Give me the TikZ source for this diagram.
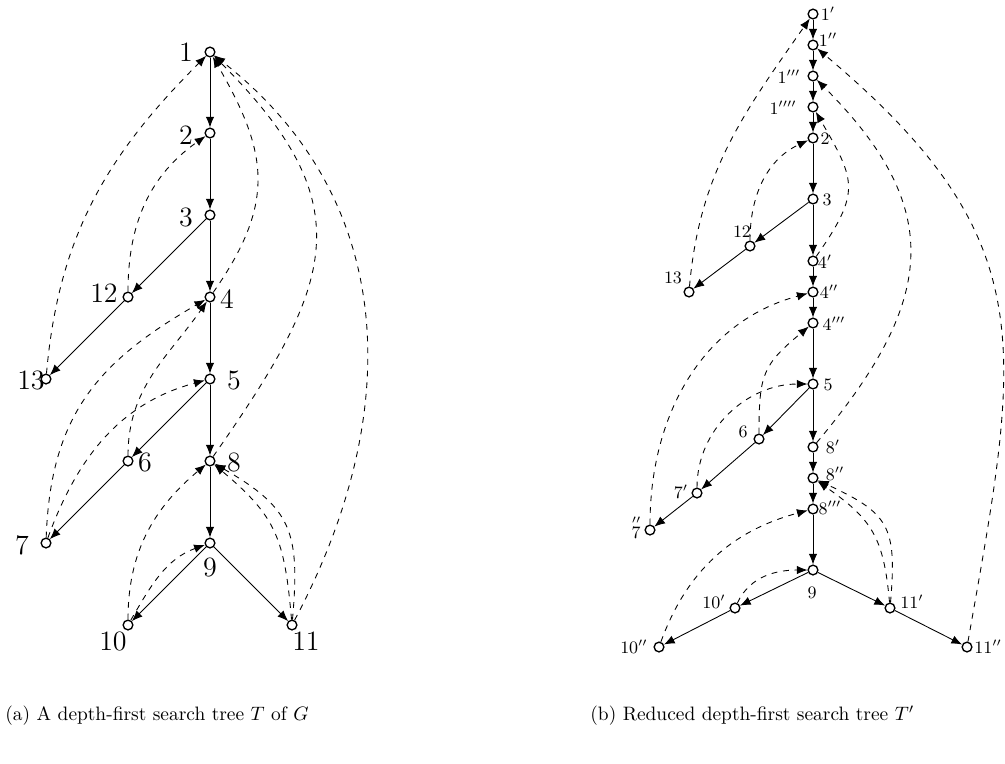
\documentclass[tikz,border=0pt]{standalone}
\usepackage{amsmath}
\usepackage{tikz}
\usetikzlibrary{arrows.meta}
\tikzset{
	vtx/.style     ={circle, draw=black, line width=0.7pt, fill=white, inner sep=0pt, minimum size=5pt},
	treeedge/.style={-{Latex[length=5.5pt,width=4.4pt]}, line width=0.45pt},
	backedge/.style={-{Latex[length=5.5pt,width=4.4pt]}, dashed, line width=0.45pt},
	% vertex labels of the two trees
	lblA/.style    ={font=\Large, inner sep=0pt},
	lblB/.style    ={font=\small, inner sep=0pt},
	capt/.style    ={anchor=west, inner sep=0pt},
}

\begin{document}
\begin{tikzpicture}[x=0.0181cm, y=0.0181cm]
	\useasboundingbox (0,0) rectangle (1005,-763);
	% ---------- (a) depth-first search tree T ----------
	\foreach \n/\x/\y in {1/210/52, 2/210/133, 3/210/215, 12/128/297, 4/210/297,
		13/46/379, 5/210/379, 6/128/461, 8/210/461, 7/46/543, 9/210/543,
		10/128/625, 11/292/625}
		\node[vtx] (a\n) at (\x,-\y) {};
	\foreach \n/\x/\y in {1/186/52, 2/186/135, 3/186/217, 12/104/293, 4/227/299,
		13/31/380, 5/234/380, 6/145/462, 8/234/462, 7/22/545, 9/210/567,
		10/113/641, 11/306/641}
		\node[lblA] (la\n) at (\x,-\y) {$\n$};
	% tree edges
	\foreach \s/\t in {1/2, 2/3, 3/4, 3/12, 12/13, 4/5, 5/6, 6/7, 5/8, 8/9, 9/10, 9/11}
		\draw[treeedge] (a\s) -- (a\t);
	% back edges
	\draw[backedge] (a13) to[out=85, in=-135] (a1);
	\draw[backedge] (a12) to[out=90, in=-145] (a2);
	\draw[backedge] (a4) to[out=55, in=-60, looseness=1.2] (a1);
	\draw[backedge] (a8) to[out=55, in=-45, looseness=1.35] (a1);
	\draw[backedge] (a11) to[out=62, in=-38, looseness=1.05] (a1);
	\draw[backedge] (a7) to[out=88, in=-150, looseness=1.1] (a4);
	\draw[backedge] (a6) to[out=90, in=-125] (a4);
	\draw[backedge] (a7) to[out=70, in=-165] (a5);
	\draw[backedge] (a10) to[out=90, in=-140] (a8);
	\draw[backedge] (a10) to[out=60, in=-160] (a9);
	\draw[backedge] (a11) to[out=95, in=-40, looseness=1.2] (a8);
	\draw[backedge] (a11) to[out=85, in=-30, looseness=1.3] (a8);
	% ---------- (b) reduced depth-first search tree T' ----------
	\foreach \n/\x/\y in {1p/813/14, 1pp/813/45, 1ppp/813/76, 1pppp/813/107, 2/813/138,
		3/813/199, 12/750/246, 13/689/292, 4p/813/261, 4pp/813/292, 4ppp/813/323,
		5/813/384, 6/759/439, 7p/697/493, 7pp/650/530, 8p/813/447, 8pp/813/478,
		8ppp/813/509, 9/813/570, 10p/735/608, 10pp/659/647, 11p/890/608, 11pp/967/647}
		\node[vtx] (b\n) at (\x,-\y) {};
	\foreach \n/\x/\y/\t in {1p/828/14/$1'$, 1pp/828/40/$1''$, 1ppp/789/77/$1'''$,
		1pppp/783/108/$1''''$, 2/825/139/$2$, 3/827/200/$3$, 12/742/232/$12$,
		13/673/278/$13$, 4p/825/262/$4'$, 4pp/829/292/$4''$, 4ppp/834/324/$4'''$,
		5/828/385/$5$, 6/743/432/$6$, 7p/681/492/$7'$, 7pp/636/527/$\overset{\prime\prime}{7}$,
		8p/833/447/$8'$, 8pp/835/474/$8''$, 8ppp/830/508/$8'''$, 9/812/593/$9$,
		10p/714/602/$10'$, 10pp/634/647/$10''$, 11p/912/602/$11'$, 11pp/988/647/$11''$}
		\node[lblB] (lb\n) at (\x,-\y) {\t};
	% tree edges
	\foreach \s/\t in {1p/1pp, 1pp/1ppp, 1ppp/1pppp, 1pppp/2, 2/3, 3/4p, 4p/4pp, 4pp/4ppp,
		4ppp/5, 5/8p, 8p/8pp, 8pp/8ppp, 8ppp/9, 3/12, 12/13, 5/6, 6/7p, 7p/7pp,
		9/10p, 10p/10pp, 9/11p, 11p/11pp}
		\draw[treeedge] (b\s) -- (b\t);
	% back edges
	\draw[backedge] (b13) to[out=85, in=-125] (b1p);
	\draw[backedge] (b12) to[out=90, in=-155] (b2);
	\draw[backedge] (b4p) to[out=55, in=-60, looseness=1.4] (b1pppp);
	\draw[backedge] (b8p) to[out=50, in=-45, looseness=1.3] (b1ppp);
	\draw[backedge] (b11pp) to[out=80, in=-40, looseness=1.25] (b1pp);
	\draw[backedge] (b7pp) to[out=90, in=-165] (b4pp);
	\draw[backedge] (b6) to[out=90, in=-140, looseness=1.3] (b4ppp);
	\draw[backedge] (b7p) to[out=90, in=180] (b5);
	\draw[backedge] (b10pp) to[out=70, in=-165] (b8ppp);
	\draw[backedge] (b10p) to[out=65, in=180] (b9);
	\draw[backedge] (b11p) to[out=95, in=-35, looseness=1.2] (b8pp);
	\draw[backedge] (b11p) to[out=85, in=-25, looseness=1.4] (b8pp);
	% captions
	\node[capt] (capA) at (5,-716) {(a) A depth-first search tree $T$ of $G$};
	\node[capt] (capB) at (590,-716) {(b) Reduced depth-first search tree $T'$};
\end{tikzpicture}
\end{document}
